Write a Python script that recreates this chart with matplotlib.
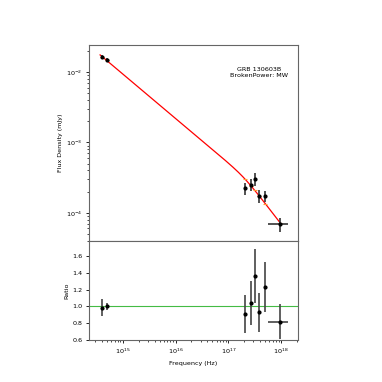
import numpy as np
import matplotlib
matplotlib.use("Agg")
import matplotlib.pyplot as plt

# data (log10 frequency in Hz, flux in mJy)
opt_logf = [14.615, 14.695]
opt_flux = [0.0162, 0.0146]
opt_ferr = [0.0012, 0.0010]

xr_logf = [17.315, 17.43, 17.50, 17.585, 17.70, 17.98]
xr_logf_lo = [17.315, 17.43, 17.50, 17.585, 17.70, 17.755]
xr_logf_hi = [17.315, 17.43, 17.50, 17.585, 17.70, 18.13]
xr_flux = [2.24e-4, 2.51e-4, 3.02e-4, 1.76e-4, 1.74e-4, 6.9e-5]
xr_ferr = [0.45e-4, 0.50e-4, 0.60e-4, 0.38e-4, 0.33e-4, 1.5e-5]

opt_ratio = [0.985, 1.0]
opt_rerr = [0.10, 0.045]
xr_ratio = [0.91, 1.04, 1.365, 0.93, 1.23, 0.82]
xr_rerr = [0.23, 0.26, 0.32, 0.235, 0.30, 0.21]

# smoothly broken power law model
model_norm = 0.0174     # flux at 10^14.57 Hz
model_f0 = 14.57
model_fb = 17.3
beta1 = -0.63
beta2 = -0.97
model_fmax = 18.0


def model(logf):
    logf = np.asarray(logf)
    s = 0.12
    x = (logf - model_fb) / s
    soft = s * np.logaddexp(0, x)
    lf = np.log10(model_norm) + beta1 * (logf - model_f0) + (beta2 - beta1) * soft
    return 10 ** lf


fs = 4.6
plt.rcParams["font.size"] = fs

fig = plt.figure(figsize=(3.82, 3.82), dpi=100)
ax1 = fig.add_axes([0.233, 0.369, 0.547, 0.513])
ax2 = fig.add_axes([0.233, 0.110, 0.547, 0.259], sharex=ax1)

opt_f = 10 ** np.array(opt_logf)
xr_f = 10 ** np.array(xr_logf)
xr_xerr = [xr_f - 10 ** np.array(xr_logf_lo), 10 ** np.array(xr_logf_hi) - xr_f]

lf = np.linspace(model_f0, model_fmax, 400)
ax1.plot(10 ** lf, model(lf), color="red", lw=0.9, zorder=2)

ax1.errorbar(opt_f, opt_flux, yerr=opt_ferr, fmt="o", ms=2, color="k",
             ecolor="#333333", elinewidth=1.2, capsize=0, zorder=3)
ax1.errorbar(xr_f, xr_flux, yerr=xr_ferr, xerr=xr_xerr, fmt="o", ms=2,
             color="k", ecolor="#333333", elinewidth=1.2, capsize=0, zorder=3)
ax1.plot(np.concatenate([opt_f, xr_f]),
         model(np.concatenate([opt_logf, xr_logf])),
         ls="none", marker="_", ms=3, color="#ff9933", mew=0.8, zorder=2.5)

ax1.set_xscale("log")
ax1.set_yscale("log")
ax1.set_xlim(10 ** 14.36, 10 ** 18.32)
ax1.set_ylim(10 ** -4.4, 10 ** -1.62)
ax1.set_ylabel("Flux Density (mJy)", fontsize=fs, labelpad=2)
ax1.tick_params(labelbottom=False)
ax1.text(0.815, 0.86, "GRB 130603B\nBrokenPower: MW", transform=ax1.transAxes,
         ha="center", va="center", fontsize=fs, linespacing=1.3)

ax2.axhline(1.0, color="#44bb44", lw=0.8, zorder=1)
ax2.errorbar(opt_f, opt_ratio, yerr=opt_rerr, fmt="o", ms=2, color="k",
             ecolor="#444444", elinewidth=1.2, capsize=0, zorder=3)
ax2.errorbar(xr_f, xr_ratio, yerr=xr_rerr, xerr=xr_xerr, fmt="o", ms=2,
             color="k", ecolor="#444444", elinewidth=1.2, capsize=0, zorder=3)
ax2.set_ylim(0.6, 1.78)
ax2.set_yticks([0.6, 0.8, 1.0, 1.2, 1.4, 1.6])
ax2.set_ylabel("Ratio", fontsize=fs, labelpad=2)
ax2.set_xlabel("Frequency (Hz)", fontsize=fs)

for ax in (ax1, ax2):
    ax.tick_params(which="major", length=2.5, width=0.6, labelsize=fs, pad=2)
    ax.tick_params(which="minor", length=1.5, width=0.5)
    for s in ax.spines.values():
        s.set_color("#666666")
        s.set_linewidth(0.8)

ax2.xaxis.set_major_locator(matplotlib.ticker.LogLocator(base=10, numticks=10))

fig.savefig("out.png", dpi=100)
